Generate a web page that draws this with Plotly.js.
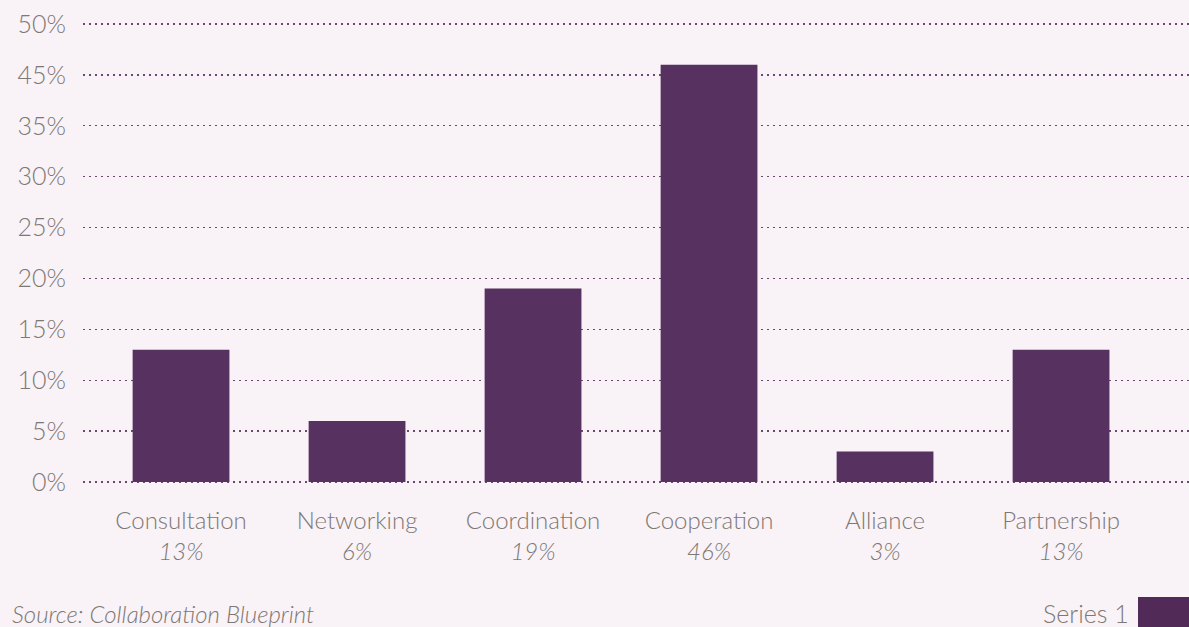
<!DOCTYPE html>
<html>
<head>
<meta charset="utf-8">
<script src="https://cdn.plot.ly/plotly-3.0.1.min.js"></script>
<style>
html,body{margin:0;padding:0;background:#f9f2f7;}
#chart{width:1189px;height:627px;}
</style>
</head>
<body>
<div id="chart"></div>
<script>
// Data
const categories = ["Consultation", "Networking", "Coordination", "Cooperation", "Alliance", "Partnership"];
const values = [13, 6, 19, 46, 3, 13];            // percent
const yTickValues = [0, 5, 10, 15, 20, 25, 30, 35, 45, 50];
const yTickLabels = ["0%", "5%", "10%", "15%", "20%", "25%", "30%", "35%", "45%", "50%"];
const seriesName = "Series 1";
const sourceText = "Source: Collaboration Blueprint";

// The reference axis is broken: the 40% step is skipped (35% -> 45%).
function axisPos(v) { return v <= 35 ? v : Math.max(35, v - 5); }

const barColor = "#57315f";
const textColor = "#7d7873";
const FONT = "Lato, 'Open Sans', sans-serif";

const xIdx = categories.map((c, i) => i);
const trace = {
  type: "bar",
  x: xIdx,
  y: values.map(axisPos),
  customdata: values,
  hovertemplate: "%{customdata}%<extra></extra>",
  name: seriesName,
  width: 0.55,
  marker: { color: barColor, line: { width: 0 } },
  showlegend: false
};

const layout = {
  width: 1189, height: 627,
  paper_bgcolor: "#f9f2f7",
  plot_bgcolor: "#f9f2f7",
  margin: { l: 83, r: 0, t: 21, b: 142 },
  font: { family: FONT, color: textColor, size: 22, weight: 300 },
  bargap: 0.45,
  xaxis: {
    range: [-0.557, 5.727],
    tickvals: xIdx,
    ticktext: categories.map((c, i) => c + "<br><i>" + values[i] + "%</i>"),
    showgrid: false, zeroline: false, showline: false,
    ticks: "", ticklabelstandoff: 19,
    tickfont: { family: FONT, color: textColor, size: 24, weight: 300 },
    fixedrange: true
  },
  yaxis: {
    range: [-0.3, 45.3],
    tickvals: yTickValues.map(axisPos),
    ticktext: yTickLabels,
    showgrid: true, gridcolor: "#6a4870", gridwidth: 1.3, griddash: "1.5px,4.5px",
    zeroline: false, showline: false,
    ticks: "", ticklabelstandoff: 16,
    tickfont: { family: FONT, color: textColor, size: 25, weight: 300 },
    fixedrange: true
  },
  shapes: [{
    type: "rect", xref: "paper", yref: "paper",
    x0: 0.9539, x1: 1.0, y0: -0.2414, y1: -0.32,
    fillcolor: "#512a58", line: { width: 0 }
  }],
  annotations: [
    { xref: "paper", yref: "paper", x: 0.9476, y: -0.2759, xanchor: "right", yanchor: "middle",
      text: seriesName, showarrow: false, font: { family: FONT, color: textColor, size: 25, weight: 300 } },
    { xref: "paper", yref: "paper", x: -0.066, y: -0.2759, xanchor: "left", yanchor: "middle",
      text: "<i>" + sourceText + "</i>", showarrow: false, font: { family: FONT, color: textColor, size: 24, weight: 300 } }
  ]
};

Plotly.newPlot("chart", [trace], layout, { displayModeBar: false, staticPlot: true });
</script>
</body>
</html>
